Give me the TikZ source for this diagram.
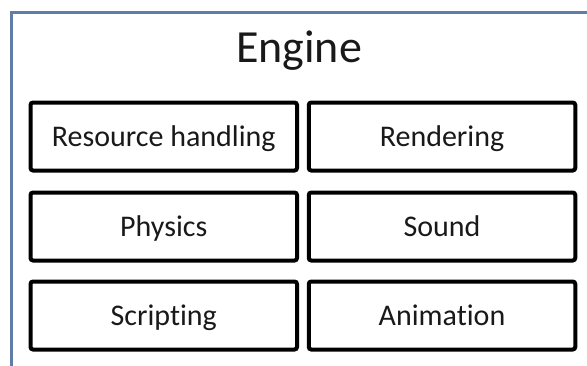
\documentclass[tikz,border=0pt]{standalone}
\usepackage{fontspec}
\setmainfont{Carlito}[Ligatures={NoCommon}]
\definecolor{frameblue}{RGB}{96,124,168}
\begin{document}
\begin{tikzpicture}[x=1pt,y=-1pt,
  module/.style={draw=black, line width=4pt, rounded corners=2.5pt,
    minimum width=266.5pt, minimum height=68pt, inner sep=0pt,
    text height=19.5pt, text depth=0pt,
    font=\fontsize{30}{36}\selectfont, text=black!90},
  title/.style={inner sep=0pt, font=\fontsize{46}{55}\selectfont, text=black!90}]
  % canvas
  \useasboundingbox (0,0) rectangle (587,365);
  \fill[white] (0,0) rectangle (587,365);
  % engine frame, open to the right and bottom
  \coordinate (fbl) at (11,366);
  \coordinate (ftl) at (11,12);
  \coordinate (ftr) at (588,12);
  \draw[frameblue, line width=3pt] (fbl) -- (ftl) -- (ftr);
  % title
  \node[title, anchor=base] (engine) at (299,62) {Engine};
  % subsystem modules
  \node[module] (res)   at (163.75,136.5) {Resource handling};
  \node[module] (rend)  at (442,136.5)    {Rendering};
  \node[module] (phys)  at (163.75,226.5) {Physics};
  \node[module] (sound) at (442,226.5)    {Sound};
  \node[module] (scr)   at (163.75,315.5) {Scripting};
  \node[module] (anim)  at (442,315.5)    {Animation};
\end{tikzpicture}
\end{document}
